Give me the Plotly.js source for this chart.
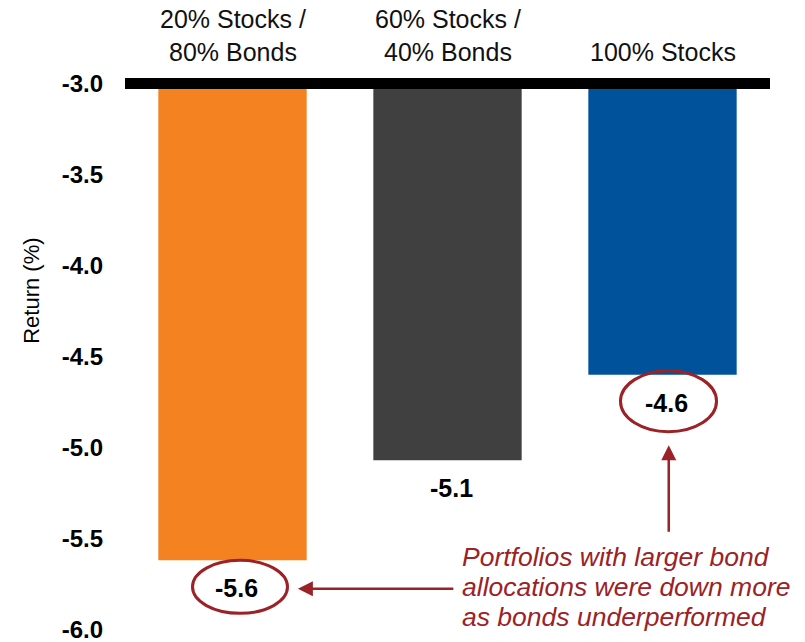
<!DOCTYPE html>
<html>
<head>
<meta charset="utf-8">
<script src="https://cdn.plot.ly/plotly-3.0.1.min.js"></script>
<style>
  html, body { margin: 0; padding: 0; background: #ffffff; }
  #chart { width: 805px; height: 642px; }
</style>
</head>
<body>
<div id="chart"></div>
<script>
// Portfolio returns by stock/bond allocation
const categories = ['20% Stocks /<br>80% Bonds', '60% Stocks /<br>40% Bonds', '100% Stocks'];
const returns = [-5.62, -5.07, -4.60];
const barColors = ['#F58220', '#404040', '#00539B'];
const baseline = -3.0;
const yTicks = [-3.0, -3.5, -4.0, -4.5, -5.0, -5.5, -6.0];
const yTickText = ['-3.0', '-3.5', '-4.0', '-4.5', '-5.0', '-5.5', '-6.0'];
const circled = [true, false, true];
const noteLines = ['Portfolios with larger bond', 'allocations were down more', 'as bonds underperformed'];

const accent = '#9B2226';
const font = 'Liberation Sans, Arial, sans-serif';
const xIdx = categories.map((_, i) => i);

// pixel extents of the ellipses drawn around value labels
const ellipseBox = [
  { x0: -40, x1: 55, y0: -53, y1: 0 },
  null,
  { x0: -42, x1: 54, y0: -57, y1: 4 }
];

const trace = {
  type: 'bar',
  x: xIdx,
  base: returns.map(() => baseline),
  y: returns.map(v => v - baseline),
  marker: { color: barColors, line: { width: 0 } },
  width: 0.69,
  hoverinfo: 'skip'
};

const annotations = [];

// category labels above the plot
categories.forEach((c, i) => {
  annotations.push({
    xref: 'x', yref: 'paper', x: i, y: 1, yshift: 10,
    xanchor: 'center', yanchor: 'bottom',
    text: c, showarrow: false,
    font: { family: font, size: 25, color: '#111111' }
  });
});

// value labels under each bar
returns.forEach((v, i) => {
  annotations.push({
    xref: 'x', yref: 'y', x: i, y: v, yshift: -28, xshift: 4,
    xanchor: 'center', yanchor: 'middle',
    text: '<b>' + v.toFixed(1) + '</b>', showarrow: false,
    font: { family: font, size: 25, color: '#000000' }
  });
});

// y axis title
annotations.push({
  xref: 'paper', yref: 'paper', x: 0, y: 0.618, xshift: -93,
  xanchor: 'center', yanchor: 'middle', textangle: -90,
  text: 'Return (%)', showarrow: false,
  font: { family: font, size: 22, color: '#000000' }
});

// callout text, one line per annotation for tight line spacing
noteLines.forEach((line, k) => {
  annotations.push({
    xref: 'paper', yref: 'paper', x: 0.519, y: 0.135, yshift: -30 * k + 3,
    xanchor: 'left', yanchor: 'middle', align: 'left',
    text: '<i>' + line + '</i>', showarrow: false,
    font: { family: font, size: 26.5, color: accent }
  });
});

// arrows from the callout to the circled values
annotations.push({
  xref: 'paper', yref: 'paper', x: 0.268, y: 0.083,
  ax: 157, ay: 0, text: '', showarrow: true,
  arrowhead: 2, arrowsize: 1.2, arrowwidth: 2.5, arrowcolor: accent
});
annotations.push({
  xref: 'paper', yref: 'paper', x: 0.843, y: 0.3406,
  ax: 0, ay: 88, text: '', showarrow: true,
  arrowhead: 2, arrowsize: 1.2, arrowwidth: 2.5, arrowcolor: accent
});

const shapes = [
  // baseline bar at -3.0
  {
    type: 'line', xref: 'paper', yref: 'y', x0: 0, x1: 1, y0: baseline, y1: baseline,
    line: { color: '#000000', width: 11 }, layer: 'above'
  }
];

// ellipses around highlighted value labels
returns.forEach((v, i) => {
  if (!circled[i]) return;
  const b = ellipseBox[i];
  shapes.push({
    type: 'circle', xref: 'x', yref: 'y',
    xsizemode: 'pixel', ysizemode: 'pixel',
    xanchor: i, yanchor: v,
    x0: b.x0, x1: b.x1, y0: b.y0, y1: b.y1,
    line: { color: accent, width: 3 }, fillcolor: 'rgba(0,0,0,0)'
  });
});

const layout = {
  width: 805, height: 642,
  margin: { l: 125, r: 35, t: 78, b: 7 },
  paper_bgcolor: '#ffffff', plot_bgcolor: '#ffffff',
  showlegend: false,
  xaxis: {
    range: [-0.5, 2.5], showticklabels: false, showgrid: false,
    zeroline: false, showline: false, ticks: '', fixedrange: true
  },
  yaxis: {
    range: [-6.03, -2.97], tickvals: yTicks, ticktext: yTickText,
    showgrid: false, zeroline: false, showline: false, ticks: '',
    ticklabelstandoff: 21, ticklabeloverflow: 'allow',
    tickfont: { family: font, size: 24, color: '#000000', weight: 'bold' },
    fixedrange: true
  },
  annotations: annotations,
  shapes: shapes
};

Plotly.newPlot('chart', [trace], layout, { displayModeBar: false, staticPlot: true });
</script>
</body>
</html>
